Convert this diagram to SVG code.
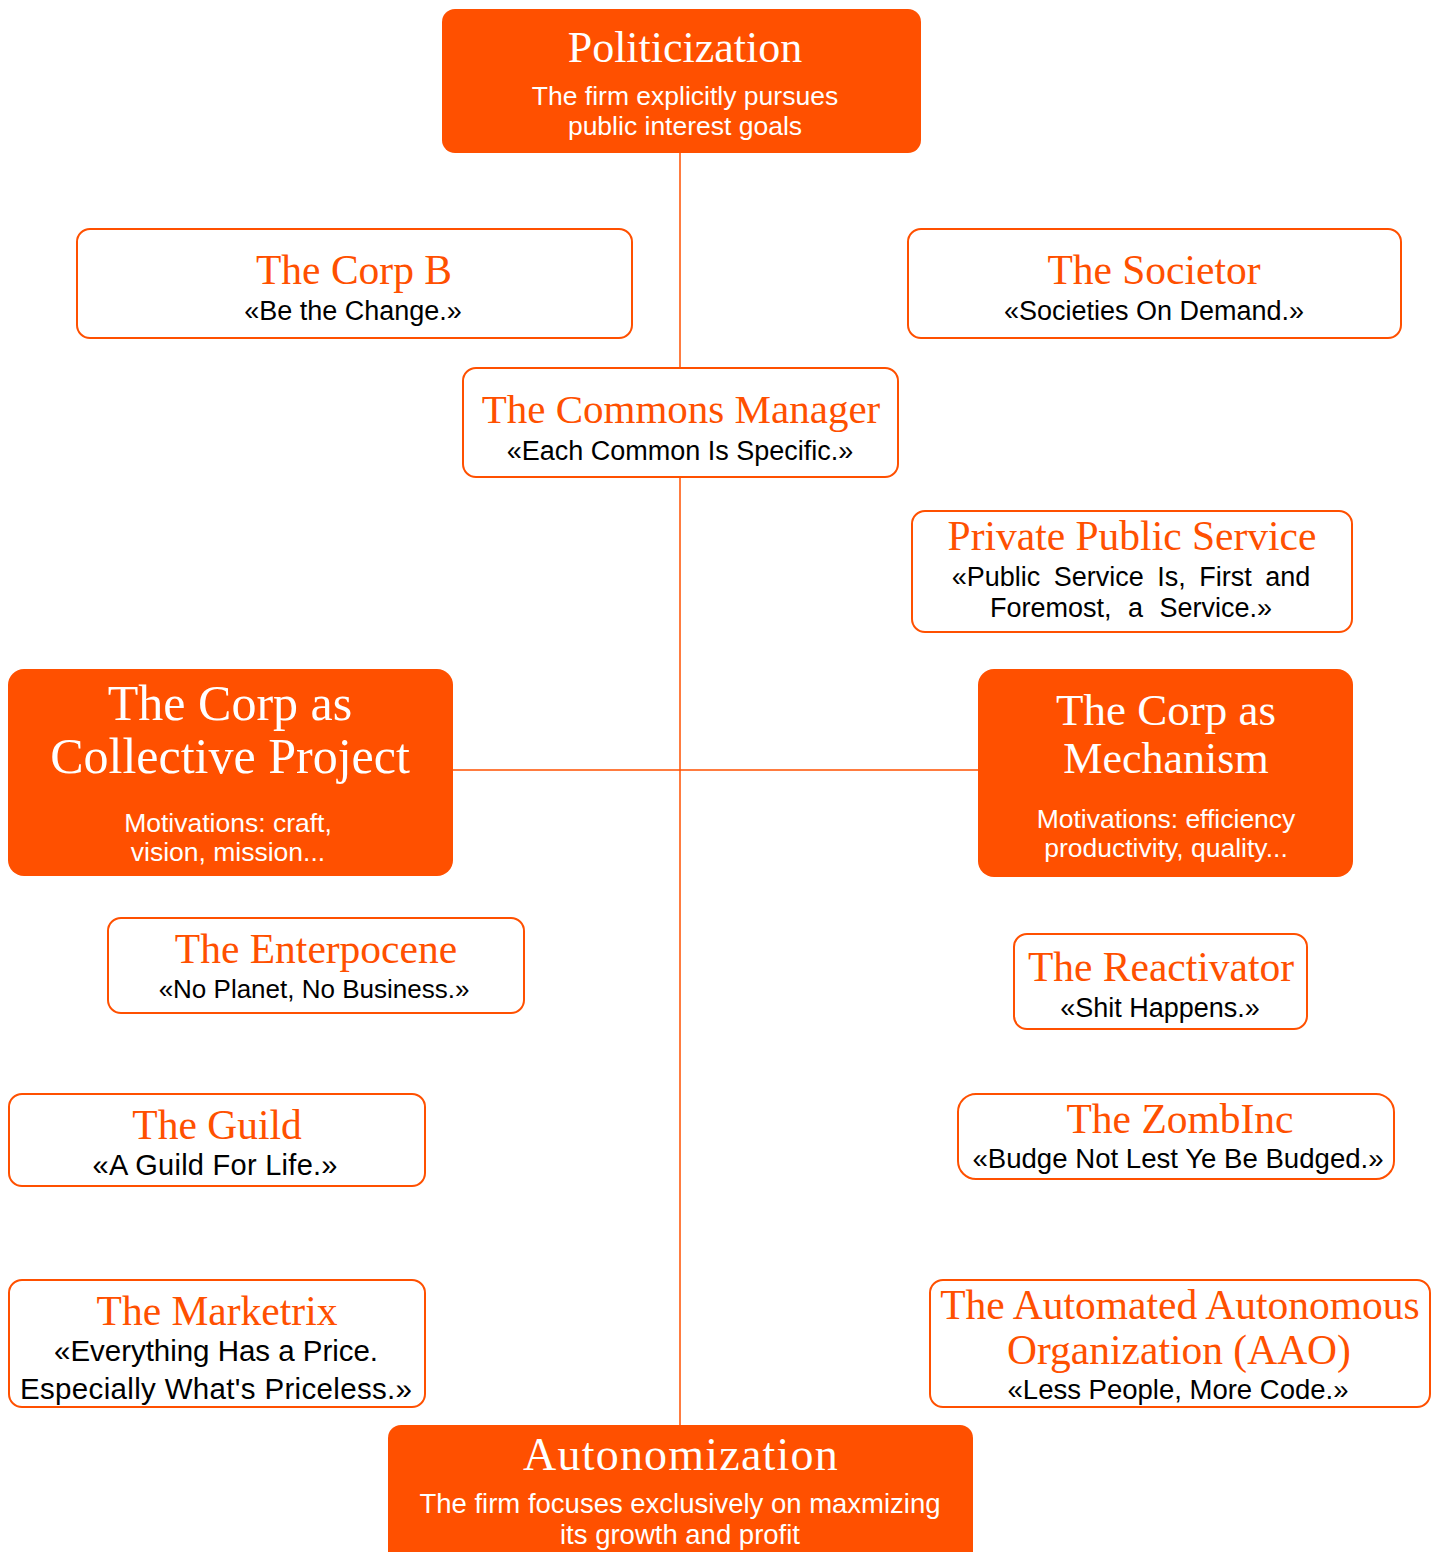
<svg xmlns="http://www.w3.org/2000/svg" width="1440" height="1552" viewBox="0 0 1440 1552">
<style>
.fill{fill:#FF5000;}
.out{fill:#FFFFFF;stroke:#FF5000;stroke-width:2;}
.t{font-family:"Liberation Serif","DejaVu Serif",serif;text-anchor:middle;fill:#FF5000;font-size:41.5px;}
.tw{font-family:"Liberation Serif","DejaVu Serif",serif;text-anchor:middle;fill:#FFFFFF;}
.s{font-family:"Liberation Sans",Arial,sans-serif;text-anchor:middle;fill:#000000;font-size:27px;}
.sw{font-family:"Liberation Sans",Arial,sans-serif;text-anchor:middle;fill:#FFFFFF;font-size:26.5px;}
.ln{stroke:#FF5000;stroke-width:1.5;fill:none;}
</style>
<rect width="1440" height="1552" fill="#FFFFFF"/>
<g id="connectors">
<line class="ln" x1="680" y1="153" x2="680" y2="1425"/>
<line class="ln" x1="453" y1="770" x2="978" y2="770"/>
</g>
<g id="politicization">
<rect class="fill" x="442" y="9" width="479" height="144" rx="13"/>
<text class="tw" x="685" y="62" font-size="44">Politicization</text>
<text class="sw" x="685" y="105">The firm explicitly pursues</text>
<text class="sw" x="685" y="135">public interest goals</text>
</g>
<g id="corp-b">
<rect class="out" x="77" y="229" width="555" height="109" rx="13"/>
<text class="t" x="354" y="284">The Corp B</text>
<text class="s" x="353" y="320">«Be the Change.»</text>
</g>
<g id="societor">
<rect class="out" x="908" y="229" width="493" height="109" rx="13"/>
<text class="t" x="1154" y="284">The Societor</text>
<text class="s" x="1154" y="320">«Societies On Demand.»</text>
</g>
<g id="commons-manager">
<rect class="out" x="463" y="368" width="435" height="109" rx="13"/>
<text class="t" x="681" y="423" style="font-size:41px">The Commons Manager</text>
<text class="s" x="680" y="460">«Each Common Is Specific.»</text>
</g>
<g id="private-public-service">
<rect class="out" x="912" y="511" width="440" height="121" rx="13"/>
<text class="t" x="1132" y="550">Private Public Service</text>
<text class="s" x="1131" y="586" word-spacing="6">«Public Service Is, First and</text>
<text class="s" x="1131" y="617" word-spacing="9">Foremost, a Service.»</text>
</g>
<g id="collective-project">
<rect class="fill" x="8" y="669" width="445" height="207" rx="16"/>
<text class="tw" x="230" y="720" font-size="50">The Corp as</text>
<text class="tw" x="230" y="773" font-size="50">Collective Project</text>
<text class="sw" x="228" y="832">Motivations: craft,</text>
<text class="sw" x="228" y="861">vision, mission...</text>
</g>
<g id="mechanism">
<rect class="fill" x="978" y="669" width="375" height="208" rx="16"/>
<text class="tw" x="1166" y="725" font-size="45">The Corp as</text>
<text class="tw" x="1166" y="773" font-size="44">Mechanism</text>
<text class="sw" x="1166" y="828">Motivations: efficiency</text>
<text class="sw" x="1166" y="857">productivity, quality...</text>
</g>
<g id="enterpocene">
<rect class="out" x="108" y="918" width="416" height="95" rx="13"/>
<text class="t" x="316" y="963">The Enterpocene</text>
<text class="s" x="314" y="998" style="font-size:26px">«No Planet, No Business.»</text>
</g>
<g id="reactivator">
<rect class="out" x="1014" y="934" width="293" height="95" rx="13"/>
<text class="t" x="1161" y="981">The Reactivator</text>
<text class="s" x="1160" y="1017">«Shit Happens.»</text>
</g>
<g id="guild">
<rect class="out" x="9" y="1094" width="416" height="92" rx="13"/>
<text class="t" x="217" y="1139">The Guild</text>
<text class="s" x="215" y="1175" style="font-size:29px" textLength="245" lengthAdjust="spacing">«A Guild For Life.»</text>
</g>
<g id="zombinc">
<rect class="out" x="958" y="1094" width="436" height="85" rx="18"/>
<text class="t" x="1180" y="1133">The ZombInc</text>
<text class="s" x="1178" y="1168" style="font-size:27.6px">«Budge Not Lest Ye Be Budged.»</text>
</g>
<g id="marketrix">
<rect class="out" x="9" y="1280" width="416" height="127" rx="13"/>
<text class="t" x="217" y="1325">The Marketrix</text>
<text class="s" x="216" y="1361" style="font-size:29.5px" textLength="324" lengthAdjust="spacing">«Everything Has a Price.</text>
<text class="s" x="216" y="1399" style="font-size:29.5px" textLength="392" lengthAdjust="spacing">Especially What's Priceless.»</text>
</g>
<g id="aao">
<rect class="out" x="930" y="1280" width="500" height="127" rx="13"/>
<text class="t" x="1180" y="1319">The Automated Autonomous</text>
<text class="t" x="1179" y="1364">Organization (AAO)</text>
<text class="s" x="1178" y="1399" style="font-size:27.5px">«Less People, More Code.»</text>
</g>
<g id="autonomization">
<rect class="fill" x="388" y="1425" width="585" height="140" rx="13"/>
<text class="tw" x="681" y="1470" font-size="46" letter-spacing="1.2">Autonomization</text>
<text class="sw" x="680" y="1513" style="font-size:27.5px">The firm focuses exclusively on maxmizing</text>
<text class="sw" x="680" y="1544" style="font-size:27.5px">its growth and profit</text>
</g>
</svg>
